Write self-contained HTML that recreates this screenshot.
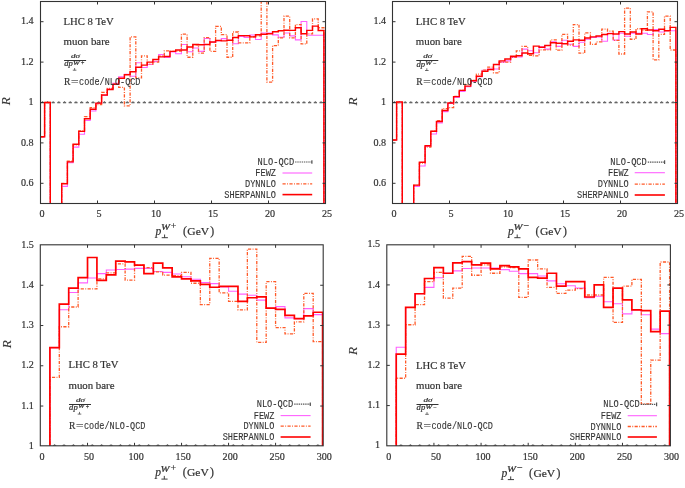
<!DOCTYPE html>
<html><head><meta charset="utf-8"><title>R ratio plots</title>
<style>html,body{margin:0;padding:0;background:#fff;}svg{display:block;filter:blur(0.3px);}</style>
</head><body>
<svg width="685" height="488" viewBox="0 0 685 488">
<rect width="685" height="488" fill="#fff"/>
<clipPath id="ctl"><rect x="40.5" y="1.5" width="285" height="202"/></clipPath>
<g clip-path="url(#ctl)"><rect x="40.95" y="101.9" width="3.2" height="1.4" fill="#666"/><rect x="42.05" y="101.1" width="1" height="1" fill="#777"/><rect x="45.85" y="101.9" width="3.2" height="1.4" fill="#666"/><rect x="46.95" y="101.1" width="1" height="1" fill="#777"/><rect x="51.55" y="101.9" width="3.2" height="1.4" fill="#666"/><rect x="52.65" y="101.1" width="1" height="1" fill="#777"/><rect x="57.25" y="101.9" width="3.2" height="1.4" fill="#666"/><rect x="58.35" y="101.1" width="1" height="1" fill="#777"/><rect x="62.95" y="101.9" width="3.2" height="1.4" fill="#666"/><rect x="64.05" y="101.1" width="1" height="1" fill="#777"/><rect x="68.65" y="101.9" width="3.2" height="1.4" fill="#666"/><rect x="69.75" y="101.1" width="1" height="1" fill="#777"/><rect x="74.35" y="101.9" width="3.2" height="1.4" fill="#666"/><rect x="75.45" y="101.1" width="1" height="1" fill="#777"/><rect x="80.05" y="101.9" width="3.2" height="1.4" fill="#666"/><rect x="81.15" y="101.1" width="1" height="1" fill="#777"/><rect x="85.75" y="101.9" width="3.2" height="1.4" fill="#666"/><rect x="86.85" y="101.1" width="1" height="1" fill="#777"/><rect x="91.45" y="101.9" width="3.2" height="1.4" fill="#666"/><rect x="92.55" y="101.1" width="1" height="1" fill="#777"/><rect x="97.15" y="101.9" width="3.2" height="1.4" fill="#666"/><rect x="98.25" y="101.1" width="1" height="1" fill="#777"/><rect x="102.85" y="101.9" width="3.2" height="1.4" fill="#666"/><rect x="103.95" y="101.1" width="1" height="1" fill="#777"/><rect x="108.55" y="101.9" width="3.2" height="1.4" fill="#666"/><rect x="109.65" y="101.1" width="1" height="1" fill="#777"/><rect x="114.25" y="101.9" width="3.2" height="1.4" fill="#666"/><rect x="115.35" y="101.1" width="1" height="1" fill="#777"/><rect x="119.95" y="101.9" width="3.2" height="1.4" fill="#666"/><rect x="121.05" y="101.1" width="1" height="1" fill="#777"/><rect x="125.65" y="101.9" width="3.2" height="1.4" fill="#666"/><rect x="126.75" y="101.1" width="1" height="1" fill="#777"/><rect x="131.35" y="101.9" width="3.2" height="1.4" fill="#666"/><rect x="132.45" y="101.1" width="1" height="1" fill="#777"/><rect x="137.05" y="101.9" width="3.2" height="1.4" fill="#666"/><rect x="138.15" y="101.1" width="1" height="1" fill="#777"/><rect x="142.75" y="101.9" width="3.2" height="1.4" fill="#666"/><rect x="143.85" y="101.1" width="1" height="1" fill="#777"/><rect x="148.45" y="101.9" width="3.2" height="1.4" fill="#666"/><rect x="149.55" y="101.1" width="1" height="1" fill="#777"/><rect x="154.15" y="101.9" width="3.2" height="1.4" fill="#666"/><rect x="155.25" y="101.1" width="1" height="1" fill="#777"/><rect x="159.85" y="101.9" width="3.2" height="1.4" fill="#666"/><rect x="160.95" y="101.1" width="1" height="1" fill="#777"/><rect x="165.55" y="101.9" width="3.2" height="1.4" fill="#666"/><rect x="166.65" y="101.1" width="1" height="1" fill="#777"/><rect x="171.25" y="101.9" width="3.2" height="1.4" fill="#666"/><rect x="172.35" y="101.1" width="1" height="1" fill="#777"/><rect x="176.95" y="101.9" width="3.2" height="1.4" fill="#666"/><rect x="178.05" y="101.1" width="1" height="1" fill="#777"/><rect x="182.65" y="101.9" width="3.2" height="1.4" fill="#666"/><rect x="183.75" y="101.1" width="1" height="1" fill="#777"/><rect x="188.35" y="101.9" width="3.2" height="1.4" fill="#666"/><rect x="189.45" y="101.1" width="1" height="1" fill="#777"/><rect x="194.05" y="101.9" width="3.2" height="1.4" fill="#666"/><rect x="195.15" y="101.1" width="1" height="1" fill="#777"/><rect x="199.75" y="101.9" width="3.2" height="1.4" fill="#666"/><rect x="200.85" y="101.1" width="1" height="1" fill="#777"/><rect x="205.45" y="101.9" width="3.2" height="1.4" fill="#666"/><rect x="206.55" y="101.1" width="1" height="1" fill="#777"/><rect x="211.15" y="101.9" width="3.2" height="1.4" fill="#666"/><rect x="212.25" y="101.1" width="1" height="1" fill="#777"/><rect x="216.85" y="101.9" width="3.2" height="1.4" fill="#666"/><rect x="217.95" y="101.1" width="1" height="1" fill="#777"/><rect x="222.55" y="101.9" width="3.2" height="1.4" fill="#666"/><rect x="223.65" y="101.1" width="1" height="1" fill="#777"/><rect x="228.25" y="101.9" width="3.2" height="1.4" fill="#666"/><rect x="229.35" y="101.1" width="1" height="1" fill="#777"/><rect x="233.95" y="101.9" width="3.2" height="1.4" fill="#666"/><rect x="235.05" y="101.1" width="1" height="1" fill="#777"/><rect x="239.65" y="101.9" width="3.2" height="1.4" fill="#666"/><rect x="240.75" y="101.1" width="1" height="1" fill="#777"/><rect x="245.35" y="101.9" width="3.2" height="1.4" fill="#666"/><rect x="246.45" y="101.1" width="1" height="1" fill="#777"/><rect x="251.05" y="101.9" width="3.2" height="1.4" fill="#666"/><rect x="252.15" y="101.1" width="1" height="1" fill="#777"/><rect x="256.75" y="101.9" width="3.2" height="1.4" fill="#666"/><rect x="257.85" y="101.1" width="1" height="1" fill="#777"/><rect x="262.45" y="101.9" width="3.2" height="1.4" fill="#666"/><rect x="263.55" y="101.1" width="1" height="1" fill="#777"/><rect x="268.15" y="101.9" width="3.2" height="1.4" fill="#666"/><rect x="269.25" y="101.1" width="1" height="1" fill="#777"/><rect x="273.85" y="101.9" width="3.2" height="1.4" fill="#666"/><rect x="274.95" y="101.1" width="1" height="1" fill="#777"/><rect x="279.55" y="101.9" width="3.2" height="1.4" fill="#666"/><rect x="280.65" y="101.1" width="1" height="1" fill="#777"/><rect x="285.25" y="101.9" width="3.2" height="1.4" fill="#666"/><rect x="286.35" y="101.1" width="1" height="1" fill="#777"/><rect x="290.95" y="101.9" width="3.2" height="1.4" fill="#666"/><rect x="292.05" y="101.1" width="1" height="1" fill="#777"/><rect x="296.65" y="101.9" width="3.2" height="1.4" fill="#666"/><rect x="297.75" y="101.1" width="1" height="1" fill="#777"/><rect x="302.35" y="101.9" width="3.2" height="1.4" fill="#666"/><rect x="303.45" y="101.1" width="1" height="1" fill="#777"/><rect x="308.05" y="101.9" width="3.2" height="1.4" fill="#666"/><rect x="309.15" y="101.1" width="1" height="1" fill="#777"/><rect x="313.75" y="101.9" width="3.2" height="1.4" fill="#666"/><rect x="314.85" y="101.1" width="1" height="1" fill="#777"/><rect x="319.45" y="101.9" width="3.2" height="1.4" fill="#666"/><rect x="320.55" y="101.1" width="1" height="1" fill="#777"/><path d="M40.5 136.84 L44.6 136.84 L44.6 102.5 L50.3 102.5 L50.3 208.5 L56 208.5 L56 208.5 L61.7 208.5 L61.7 186.33 L67.4 186.33 L67.4 162.7 L73.1 162.7 L73.1 147.14 L78.8 147.14 L78.8 134.21 L84.5 134.21 L84.5 120.48 L90.2 120.48 L90.2 110.98 L95.9 110.98 L95.9 103.51 L101.6 103.51 L101.6 95.43 L107.3 95.43 L107.3 89.17 L113 89.17 L113 83.31 L118.7 83.31 L118.7 76.85 L124.4 76.85 L124.4 74.22 L130.1 74.22 L130.1 76.24 L135.8 76.24 L135.8 62.71 L141.5 62.71 L141.5 67.55 L147.2 67.55 L147.2 64.52 L152.9 64.52 L152.9 61.49 L158.6 61.49 L158.6 54.63 L164.3 54.63 L164.3 57.45 L170 57.45 L170 52 L175.7 52 L175.7 53.82 L181.4 53.82 L181.4 44.53 L187.1 44.53 L187.1 51.8 L192.8 51.8 L192.8 47.96 L198.5 47.96 L198.5 51.39 L204.2 51.39 L204.2 38.47 L209.9 38.47 L209.9 42.3 L215.6 42.3 L215.6 40.69 L221.3 40.69 L221.3 38.67 L227 38.67 L227 40.28 L232.7 40.28 L232.7 43.72 L238.4 43.72 L238.4 36.45 L244.1 36.45 L244.1 37.46 L249.8 37.46 L249.8 35.03 L255.5 35.03 L255.5 39.48 L261.2 39.48 L261.2 33.01 L266.9 33.01 L266.9 33.01 L272.6 33.01 L272.6 34.83 L278.3 34.83 L278.3 37.25 L284 37.25 L284 33.01 L289.7 33.01 L289.7 35.84 L295.4 35.84 L295.4 39.88 L301.1 39.88 L301.1 21.5 L306.8 21.5 L306.8 35.23 L312.5 35.23 L312.5 35.23 L318.2 35.23 L318.2 35.23 L323.9 35.23 L323.9 208.5" fill="none" stroke="#f4f" stroke-width="1.1" opacity="0.85"/><path d="M40.5 136.84 L44.6 136.84 L44.6 102.5 L50.3 102.5 L50.3 208.5 L56 208.5 L56 208.5 L61.7 208.5 L61.7 183.3 L67.4 183.3 L67.4 161.08 L73.1 161.08 L73.1 144.92 L78.8 144.92 L78.8 130.78 L84.5 130.78 L84.5 116.64 L90.2 116.64 L90.2 107.55 L95.9 107.55 L95.9 104.52 L101.6 104.52 L101.6 92.4 L107.3 92.4 L107.3 88.36 L113 88.36 L113 84.12 L118.7 84.12 L118.7 87.35 L124.4 87.35 L124.4 105.93 L130.1 105.93 L130.1 36.85 L135.8 36.85 L135.8 77.86 L141.5 77.86 L141.5 55.84 L147.2 55.84 L147.2 64.12 L152.9 64.12 L152.9 62.1 L158.6 62.1 L158.6 56.04 L164.3 56.04 L164.3 50.79 L170 50.79 L170 51.39 L175.7 51.39 L175.7 50.99 L181.4 50.99 L181.4 34.22 L187.1 34.22 L187.1 57.25 L192.8 57.25 L192.8 44.73 L198.5 44.73 L198.5 53.21 L204.2 53.21 L204.2 37.66 L209.9 37.66 L209.9 51.39 L215.6 51.39 L215.6 26.35 L221.3 26.35 L221.3 34.63 L227 34.63 L227 57.25 L232.7 57.25 L232.7 32 L238.4 32 L238.4 42.91 L244.1 42.91 L244.1 42.91 L249.8 42.91 L249.8 36.85 L255.5 36.85 L255.5 35.84 L261.2 35.84 L261.2 -18.7 L266.9 -18.7 L266.9 82.1 L272.6 82.1 L272.6 45.54 L278.3 45.54 L278.3 37.86 L284 37.86 L284 16.04 L289.7 16.04 L289.7 37.86 L295.4 37.86 L295.4 24.53 L301.1 24.53 L301.1 43.92 L306.8 43.92 L306.8 33.82 L312.5 33.82 L312.5 18.87 L318.2 18.87 L318.2 27.76 L323.9 27.76 L323.9 208.5" fill="none" stroke="#ff5a28" stroke-width="1.3" stroke-dasharray="3.2 1.4 0.9 1.4"/><path d="M40.5 136.84 L44.6 136.84 L44.6 102.5 L50.3 102.5 L50.3 208.5 L56 208.5 L56 208.5 L61.7 208.5 L61.7 183.7 L67.4 183.7 L67.4 161.89 L73.1 161.89 L73.1 144.31 L78.8 144.31 L78.8 131.39 L84.5 131.39 L84.5 118.66 L90.2 118.66 L90.2 109.17 L95.9 109.17 L95.9 103.11 L101.6 103.11 L101.6 95.03 L107.3 95.03 L107.3 89.57 L113 89.57 L113 84.32 L118.7 84.32 L118.7 78.26 L124.4 78.26 L124.4 74.83 L130.1 74.83 L130.1 71.8 L135.8 71.8 L135.8 67.15 L141.5 67.15 L141.5 65.13 L147.2 65.13 L147.2 62.1 L152.9 62.1 L152.9 59.47 L158.6 59.47 L158.6 56.85 L164.3 56.85 L164.3 56.44 L170 56.44 L170 51.39 L175.7 51.39 L175.7 49.98 L181.4 49.98 L181.4 49.98 L187.1 49.98 L187.1 46.95 L192.8 46.95 L192.8 44.53 L198.5 44.53 L198.5 44.73 L204.2 44.73 L204.2 44.53 L209.9 44.53 L209.9 41.9 L215.6 41.9 L215.6 40.49 L221.3 40.49 L221.3 40.89 L227 40.89 L227 40.28 L232.7 40.28 L232.7 37.46 L238.4 37.46 L238.4 35.64 L244.1 35.64 L244.1 35.84 L249.8 35.84 L249.8 36.85 L255.5 36.85 L255.5 34.83 L261.2 34.83 L261.2 34.22 L266.9 34.22 L266.9 33.82 L272.6 33.82 L272.6 31.8 L278.3 31.8 L278.3 30.79 L284 30.79 L284 30.18 L289.7 30.18 L289.7 30.39 L295.4 30.39 L295.4 27.76 L301.1 27.76 L301.1 33.82 L306.8 33.82 L306.8 30.39 L312.5 30.39 L312.5 26.14 L318.2 26.14 L318.2 30.59 L323.9 30.59 L323.9 208.5" fill="none" stroke="#f00" stroke-width="1.45"/></g>
<rect x="40.5" y="1.5" width="285" height="202" fill="none" stroke="#333" stroke-width="1.1"/>
<path d="M97.5 203.5v-3M97.5 1.5v3M154.5 203.5v-3M154.5 1.5v3M211.5 203.5v-3M211.5 1.5v3M268.5 203.5v-3M268.5 1.5v3M40.5 183.3h3M325.5 183.3h-3M40.5 142.9h3M325.5 142.9h-3M40.5 102.5h3M325.5 102.5h-3M40.5 62.1h3M325.5 62.1h-3M40.5 21.7h3M325.5 21.7h-3" stroke="#333" stroke-width="1" fill="none"/>
<text x="42.1" y="217.1" text-anchor="middle" style="font-family:'Liberation Serif',serif;font-size:10.1px" fill="#333" stroke="#333" stroke-width="0.2">0</text>
<text x="99.1" y="217.1" text-anchor="middle" style="font-family:'Liberation Serif',serif;font-size:10.1px" fill="#333" stroke="#333" stroke-width="0.2">5</text>
<text x="156.1" y="217.1" text-anchor="middle" style="font-family:'Liberation Serif',serif;font-size:10.1px" fill="#333" stroke="#333" stroke-width="0.2">10</text>
<text x="213.1" y="217.1" text-anchor="middle" style="font-family:'Liberation Serif',serif;font-size:10.1px" fill="#333" stroke="#333" stroke-width="0.2">15</text>
<text x="270.1" y="217.1" text-anchor="middle" style="font-family:'Liberation Serif',serif;font-size:10.1px" fill="#333" stroke="#333" stroke-width="0.2">20</text>
<text x="327.1" y="217.1" text-anchor="middle" style="font-family:'Liberation Serif',serif;font-size:10.1px" fill="#333" stroke="#333" stroke-width="0.2">25</text>
<text x="33.6" y="185.9" text-anchor="end" style="font-family:'Liberation Serif',serif;font-size:10.1px" fill="#333" stroke="#333" stroke-width="0.2">0.6</text>
<text x="33.6" y="145.5" text-anchor="end" style="font-family:'Liberation Serif',serif;font-size:10.1px" fill="#333" stroke="#333" stroke-width="0.2">0.8</text>
<text x="33.6" y="105.1" text-anchor="end" style="font-family:'Liberation Serif',serif;font-size:10.1px" fill="#333" stroke="#333" stroke-width="0.2">1</text>
<text x="33.6" y="64.7" text-anchor="end" style="font-family:'Liberation Serif',serif;font-size:10.1px" fill="#333" stroke="#333" stroke-width="0.2">1.2</text>
<text x="33.6" y="24.3" text-anchor="end" style="font-family:'Liberation Serif',serif;font-size:10.1px" fill="#333" stroke="#333" stroke-width="0.2">1.4</text>
<text transform="translate(10.2 101.3) rotate(-90)" text-anchor="middle" textLength="8.1" lengthAdjust="spacingAndGlyphs" style="font-family:'Liberation Serif',serif;font-style:italic;font-size:11.6px" fill="#333" stroke="#333" stroke-width="0.1">R</text>
<text x="155.5" y="234.6" style="font-family:'Liberation Serif',serif;font-style:italic;font-size:11.6px" fill="#333" stroke="#333" stroke-width="0.2">p</text>
<text x="160.9" y="230.4" textLength="9" lengthAdjust="spacingAndGlyphs" style="font-family:'Liberation Serif',serif;font-style:italic;font-size:7.5px" fill="#333" stroke="#333" stroke-width="0.2">W</text>
<text x="170.8" y="229.1" style="font-family:'Liberation Serif',serif;font-size:10px" fill="#333" stroke="#333" stroke-width="0.2">+</text>
<path d="M161.7 237.7h6.2M164.6 237.7v-3.2" stroke="#333" stroke-width="0.95" fill="none"/>
<text x="183" y="235" style="font-family:'Liberation Serif',serif;font-size:11.8px" fill="#333" stroke="#333" stroke-width="0.2">(</text>
<text x="187.3" y="234.7" textLength="21.8" lengthAdjust="spacingAndGlyphs" style="font-family:'Liberation Serif',serif;font-size:10.5px" fill="#333" stroke="#333" stroke-width="0.2">GeV</text>
<text x="210.3" y="235" style="font-family:'Liberation Serif',serif;font-size:11.8px" fill="#333" stroke="#333" stroke-width="0.2">)</text>
<text x="63.6" y="24.5" textLength="50" lengthAdjust="spacingAndGlyphs" style="font-family:'Liberation Serif',serif;font-size:10.2px" fill="#333" stroke="#333" stroke-width="0.2">LHC 8 TeV</text>
<text x="63.6" y="44.9" textLength="46" lengthAdjust="spacingAndGlyphs" style="font-family:'Liberation Serif',serif;font-size:10.5px" fill="#333" stroke="#333" stroke-width="0.2">muon bare</text>
<text x="71" y="58.1" textLength="9" lengthAdjust="spacingAndGlyphs" style="font-family:'Liberation Serif',serif;font-style:italic;font-size:6.8px" fill="#333" stroke="#333" stroke-width="0.2">dσ</text>
<rect x="64.1" y="60" width="22" height="1" fill="#333"/>
<text x="64.2" y="66.2" textLength="8.6" lengthAdjust="spacingAndGlyphs" style="font-family:'Liberation Serif',serif;font-style:italic;font-size:7.2px" fill="#333" stroke="#333" stroke-width="0.2">dp</text>
<text x="73" y="64.5" textLength="6.6" lengthAdjust="spacingAndGlyphs" style="font-family:'Liberation Serif',serif;font-style:italic;font-size:5.6px" fill="#333" stroke="#333" stroke-width="0.2">W</text>
<text x="80.9" y="64.6" style="font-family:'Liberation Serif',serif;font-size:6px" fill="#333" stroke="#333" stroke-width="0.2">+</text>
<path d="M72.8 70.2h3.6M74.6 70.2v-2.2" stroke="#333" stroke-width="0.7" fill="none"/>
<text x="64.1" y="84.6" textLength="6.4" lengthAdjust="spacingAndGlyphs" style="font-family:'Liberation Serif',serif;font-size:10.8px" fill="#333" stroke="#333" stroke-width="0.2">R</text>
<text x="71" y="84.6" textLength="7.5" lengthAdjust="spacingAndGlyphs" style="font-family:'Liberation Serif',serif;font-size:10.8px" fill="#333" stroke="#333" stroke-width="0.2">=</text>
<text x="79.1" y="84.6" textLength="61.4" lengthAdjust="spacingAndGlyphs" style="font-family:'Liberation Mono',monospace;font-size:10.2px" fill="#333" stroke="#333" stroke-width="0.1">code/NLO-QCD</text>
<text x="257.6" y="164.9" textLength="36.5" lengthAdjust="spacingAndGlyphs" style="font-family:'Liberation Mono',monospace;font-size:10.2px" fill="#333" stroke="#333" stroke-width="0.1">NLO-QCD</text>
<text x="276" y="176.2" text-anchor="end" textLength="20.68" lengthAdjust="spacingAndGlyphs" style="font-family:'Liberation Mono',monospace;font-size:10.2px" fill="#333" stroke="#333" stroke-width="0.1">FEWZ</text>
<text x="276" y="187.1" text-anchor="end" textLength="31.02" lengthAdjust="spacingAndGlyphs" style="font-family:'Liberation Mono',monospace;font-size:10.2px" fill="#333" stroke="#333" stroke-width="0.1">DYNNLO</text>
<text x="276" y="197.8" text-anchor="end" textLength="51.7" lengthAdjust="spacingAndGlyphs" style="font-family:'Liberation Mono',monospace;font-size:10.2px" fill="#333" stroke="#333" stroke-width="0.1">SHERPANNLO</text>
<path d="M295.1 162H312.2" stroke="#555" stroke-width="1.2" stroke-dasharray="1.4 0.8"/>
<path d="M311.9 160.2v3.6" stroke="#555" stroke-width="1.2"/>
<path d="M282.5 173H312.2" stroke="#f4f" stroke-width="1.1" opacity="0.85"/>
<path d="M282.5 183.9H312.2" stroke="#ff5a28" stroke-width="1.3" stroke-dasharray="3.2 1.4 0.9 1.4"/>
<path d="M282.5 194.6H312.2" stroke="#f00" stroke-width="1.6"/>
<clipPath id="ctr"><rect x="392.5" y="1.5" width="285" height="202"/></clipPath>
<g clip-path="url(#ctr)"><rect x="392.95" y="101.9" width="3.2" height="1.4" fill="#666"/><rect x="394.05" y="101.1" width="1" height="1" fill="#777"/><rect x="397.85" y="101.9" width="3.2" height="1.4" fill="#666"/><rect x="398.95" y="101.1" width="1" height="1" fill="#777"/><rect x="403.55" y="101.9" width="3.2" height="1.4" fill="#666"/><rect x="404.65" y="101.1" width="1" height="1" fill="#777"/><rect x="409.25" y="101.9" width="3.2" height="1.4" fill="#666"/><rect x="410.35" y="101.1" width="1" height="1" fill="#777"/><rect x="414.95" y="101.9" width="3.2" height="1.4" fill="#666"/><rect x="416.05" y="101.1" width="1" height="1" fill="#777"/><rect x="420.65" y="101.9" width="3.2" height="1.4" fill="#666"/><rect x="421.75" y="101.1" width="1" height="1" fill="#777"/><rect x="426.35" y="101.9" width="3.2" height="1.4" fill="#666"/><rect x="427.45" y="101.1" width="1" height="1" fill="#777"/><rect x="432.05" y="101.9" width="3.2" height="1.4" fill="#666"/><rect x="433.15" y="101.1" width="1" height="1" fill="#777"/><rect x="437.75" y="101.9" width="3.2" height="1.4" fill="#666"/><rect x="438.85" y="101.1" width="1" height="1" fill="#777"/><rect x="443.45" y="101.9" width="3.2" height="1.4" fill="#666"/><rect x="444.55" y="101.1" width="1" height="1" fill="#777"/><rect x="449.15" y="101.9" width="3.2" height="1.4" fill="#666"/><rect x="450.25" y="101.1" width="1" height="1" fill="#777"/><rect x="454.85" y="101.9" width="3.2" height="1.4" fill="#666"/><rect x="455.95" y="101.1" width="1" height="1" fill="#777"/><rect x="460.55" y="101.9" width="3.2" height="1.4" fill="#666"/><rect x="461.65" y="101.1" width="1" height="1" fill="#777"/><rect x="466.25" y="101.9" width="3.2" height="1.4" fill="#666"/><rect x="467.35" y="101.1" width="1" height="1" fill="#777"/><rect x="471.95" y="101.9" width="3.2" height="1.4" fill="#666"/><rect x="473.05" y="101.1" width="1" height="1" fill="#777"/><rect x="477.65" y="101.9" width="3.2" height="1.4" fill="#666"/><rect x="478.75" y="101.1" width="1" height="1" fill="#777"/><rect x="483.35" y="101.9" width="3.2" height="1.4" fill="#666"/><rect x="484.45" y="101.1" width="1" height="1" fill="#777"/><rect x="489.05" y="101.9" width="3.2" height="1.4" fill="#666"/><rect x="490.15" y="101.1" width="1" height="1" fill="#777"/><rect x="494.75" y="101.9" width="3.2" height="1.4" fill="#666"/><rect x="495.85" y="101.1" width="1" height="1" fill="#777"/><rect x="500.45" y="101.9" width="3.2" height="1.4" fill="#666"/><rect x="501.55" y="101.1" width="1" height="1" fill="#777"/><rect x="506.15" y="101.9" width="3.2" height="1.4" fill="#666"/><rect x="507.25" y="101.1" width="1" height="1" fill="#777"/><rect x="511.85" y="101.9" width="3.2" height="1.4" fill="#666"/><rect x="512.95" y="101.1" width="1" height="1" fill="#777"/><rect x="517.55" y="101.9" width="3.2" height="1.4" fill="#666"/><rect x="518.65" y="101.1" width="1" height="1" fill="#777"/><rect x="523.25" y="101.9" width="3.2" height="1.4" fill="#666"/><rect x="524.35" y="101.1" width="1" height="1" fill="#777"/><rect x="528.95" y="101.9" width="3.2" height="1.4" fill="#666"/><rect x="530.05" y="101.1" width="1" height="1" fill="#777"/><rect x="534.65" y="101.9" width="3.2" height="1.4" fill="#666"/><rect x="535.75" y="101.1" width="1" height="1" fill="#777"/><rect x="540.35" y="101.9" width="3.2" height="1.4" fill="#666"/><rect x="541.45" y="101.1" width="1" height="1" fill="#777"/><rect x="546.05" y="101.9" width="3.2" height="1.4" fill="#666"/><rect x="547.15" y="101.1" width="1" height="1" fill="#777"/><rect x="551.75" y="101.9" width="3.2" height="1.4" fill="#666"/><rect x="552.85" y="101.1" width="1" height="1" fill="#777"/><rect x="557.45" y="101.9" width="3.2" height="1.4" fill="#666"/><rect x="558.55" y="101.1" width="1" height="1" fill="#777"/><rect x="563.15" y="101.9" width="3.2" height="1.4" fill="#666"/><rect x="564.25" y="101.1" width="1" height="1" fill="#777"/><rect x="568.85" y="101.9" width="3.2" height="1.4" fill="#666"/><rect x="569.95" y="101.1" width="1" height="1" fill="#777"/><rect x="574.55" y="101.9" width="3.2" height="1.4" fill="#666"/><rect x="575.65" y="101.1" width="1" height="1" fill="#777"/><rect x="580.25" y="101.9" width="3.2" height="1.4" fill="#666"/><rect x="581.35" y="101.1" width="1" height="1" fill="#777"/><rect x="585.95" y="101.9" width="3.2" height="1.4" fill="#666"/><rect x="587.05" y="101.1" width="1" height="1" fill="#777"/><rect x="591.65" y="101.9" width="3.2" height="1.4" fill="#666"/><rect x="592.75" y="101.1" width="1" height="1" fill="#777"/><rect x="597.35" y="101.9" width="3.2" height="1.4" fill="#666"/><rect x="598.45" y="101.1" width="1" height="1" fill="#777"/><rect x="603.05" y="101.9" width="3.2" height="1.4" fill="#666"/><rect x="604.15" y="101.1" width="1" height="1" fill="#777"/><rect x="608.75" y="101.9" width="3.2" height="1.4" fill="#666"/><rect x="609.85" y="101.1" width="1" height="1" fill="#777"/><rect x="614.45" y="101.9" width="3.2" height="1.4" fill="#666"/><rect x="615.55" y="101.1" width="1" height="1" fill="#777"/><rect x="620.15" y="101.9" width="3.2" height="1.4" fill="#666"/><rect x="621.25" y="101.1" width="1" height="1" fill="#777"/><rect x="625.85" y="101.9" width="3.2" height="1.4" fill="#666"/><rect x="626.95" y="101.1" width="1" height="1" fill="#777"/><rect x="631.55" y="101.9" width="3.2" height="1.4" fill="#666"/><rect x="632.65" y="101.1" width="1" height="1" fill="#777"/><rect x="637.25" y="101.9" width="3.2" height="1.4" fill="#666"/><rect x="638.35" y="101.1" width="1" height="1" fill="#777"/><rect x="642.95" y="101.9" width="3.2" height="1.4" fill="#666"/><rect x="644.05" y="101.1" width="1" height="1" fill="#777"/><rect x="648.65" y="101.9" width="3.2" height="1.4" fill="#666"/><rect x="649.75" y="101.1" width="1" height="1" fill="#777"/><rect x="654.35" y="101.9" width="3.2" height="1.4" fill="#666"/><rect x="655.45" y="101.1" width="1" height="1" fill="#777"/><rect x="660.05" y="101.9" width="3.2" height="1.4" fill="#666"/><rect x="661.15" y="101.1" width="1" height="1" fill="#777"/><rect x="665.75" y="101.9" width="3.2" height="1.4" fill="#666"/><rect x="666.85" y="101.1" width="1" height="1" fill="#777"/><rect x="671.45" y="101.9" width="3.2" height="1.4" fill="#666"/><rect x="672.55" y="101.1" width="1" height="1" fill="#777"/><path d="M392.5 140.07 L396.6 140.07 L396.6 102.5 L402.3 102.5 L402.3 208.5 L408 208.5 L408 208.5 L413.7 208.5 L413.7 186.33 L419.4 186.33 L419.4 165.93 L425.1 165.93 L425.1 146.54 L430.8 146.54 L430.8 134.01 L436.5 134.01 L436.5 122.9 L442.2 122.9 L442.2 111.59 L447.9 111.59 L447.9 103.51 L453.6 103.51 L453.6 97.45 L459.3 97.45 L459.3 91.39 L465 91.39 L465 86.74 L470.7 86.74 L470.7 81.29 L476.4 81.29 L476.4 76.64 L482.1 76.64 L482.1 70.18 L487.8 70.18 L487.8 69.17 L493.5 69.17 L493.5 68.97 L499.2 68.97 L499.2 62.1 L504.9 62.1 L504.9 60.89 L510.6 60.89 L510.6 57.45 L516.3 57.45 L516.3 57.05 L522 57.05 L522 49.17 L527.7 49.17 L527.7 50.79 L533.4 50.79 L533.4 52.81 L539.1 52.81 L539.1 46.75 L544.8 46.75 L544.8 49.17 L550.5 49.17 L550.5 41.9 L556.2 41.9 L556.2 46.34 L561.9 46.34 L561.9 40.28 L567.6 40.28 L567.6 44.32 L573.3 44.32 L573.3 46.34 L579 46.34 L579 42.3 L584.7 42.3 L584.7 39.27 L590.4 39.27 L590.4 37.46 L596.1 37.46 L596.1 36.85 L601.8 36.85 L601.8 41.29 L607.5 41.29 L607.5 33.42 L613.2 33.42 L613.2 40.08 L618.9 40.08 L618.9 33.21 L624.6 33.21 L624.6 36.24 L630.3 36.24 L630.3 33.21 L636 33.21 L636 33.21 L641.7 33.21 L641.7 33.21 L647.4 33.21 L647.4 34.43 L653.1 34.43 L653.1 29.58 L658.8 29.58 L658.8 32 L664.5 32 L664.5 30.79 L670.2 30.79 L670.2 30.79 L675.9 30.79 L675.9 208.5" fill="none" stroke="#f4f" stroke-width="1.1" opacity="0.85"/><path d="M392.5 140.07 L396.6 140.07 L396.6 102.5 L402.3 102.5 L402.3 208.5 L408 208.5 L408 208.5 L413.7 208.5 L413.7 185.32 L419.4 185.32 L419.4 163.1 L425.1 163.1 L425.1 147.14 L430.8 147.14 L430.8 131.18 L436.5 131.18 L436.5 120.68 L442.2 120.68 L442.2 108.56 L447.9 108.56 L447.9 107.55 L453.6 107.55 L453.6 96.44 L459.3 96.44 L459.3 90.38 L465 90.38 L465 84.32 L470.7 84.32 L470.7 80.28 L476.4 80.28 L476.4 74.22 L482.1 74.22 L482.1 70.18 L487.8 70.18 L487.8 67.15 L493.5 67.15 L493.5 72.81 L499.2 72.81 L499.2 62.1 L504.9 62.1 L504.9 62.1 L510.6 62.1 L510.6 57.45 L516.3 57.45 L516.3 50.79 L522 50.79 L522 46.34 L527.7 46.34 L527.7 55.23 L533.4 55.23 L533.4 55.84 L539.1 55.84 L539.1 49.78 L544.8 49.78 L544.8 49.78 L550.5 49.78 L550.5 39.88 L556.2 39.88 L556.2 50.18 L561.9 50.18 L561.9 34.43 L567.6 34.43 L567.6 45.13 L573.3 45.13 L573.3 24.53 L579 24.53 L579 53.21 L584.7 53.21 L584.7 32.81 L590.4 32.81 L590.4 44.32 L596.1 44.32 L596.1 41.9 L601.8 41.9 L601.8 29.17 L607.5 29.17 L607.5 31.19 L613.2 31.19 L613.2 40.28 L618.9 40.28 L618.9 54.02 L624.6 54.02 L624.6 8.17 L630.3 8.17 L630.3 39.27 L636 39.27 L636 28.77 L641.7 28.77 L641.7 30.39 L647.4 30.39 L647.4 11.8 L653.1 11.8 L653.1 59.88 L658.8 59.88 L658.8 34.43 L664.5 34.43 L664.5 16.04 L670.2 16.04 L670.2 49.98 L675.9 49.98 L675.9 208.5" fill="none" stroke="#ff5a28" stroke-width="1.3" stroke-dasharray="3.2 1.4 0.9 1.4"/><path d="M392.5 140.07 L396.6 140.07 L396.6 101.89 L402.3 101.89 L402.3 208.5 L408 208.5 L408 208.5 L413.7 208.5 L413.7 185.12 L419.4 185.12 L419.4 162.29 L425.1 162.29 L425.1 145.73 L430.8 145.73 L430.8 131.18 L436.5 131.18 L436.5 121.49 L442.2 121.49 L442.2 110.58 L447.9 110.58 L447.9 102.9 L453.6 102.9 L453.6 96.64 L459.3 96.64 L459.3 90.38 L465 90.38 L465 86.14 L470.7 86.14 L470.7 80.68 L476.4 80.68 L476.4 76.24 L482.1 76.24 L482.1 71.39 L487.8 71.39 L487.8 69.57 L493.5 69.57 L493.5 64.52 L499.2 64.52 L499.2 60.89 L504.9 60.89 L504.9 59.07 L510.6 59.07 L510.6 56.24 L516.3 56.24 L516.3 55.84 L522 55.84 L522 53.01 L527.7 53.01 L527.7 53.82 L533.4 53.82 L533.4 46.14 L539.1 46.14 L539.1 47.15 L544.8 47.15 L544.8 45.54 L550.5 45.54 L550.5 42.71 L556.2 42.71 L556.2 43.31 L561.9 43.31 L561.9 43.72 L567.6 43.72 L567.6 41.29 L573.3 41.29 L573.3 39.88 L579 39.88 L579 40.28 L584.7 40.28 L584.7 38.06 L590.4 38.06 L590.4 36.85 L596.1 36.85 L596.1 36.04 L601.8 36.04 L601.8 34.43 L607.5 34.43 L607.5 33.62 L613.2 33.62 L613.2 34.02 L618.9 34.02 L618.9 31.6 L624.6 31.6 L624.6 34.02 L630.3 34.02 L630.3 32 L636 32 L636 34.02 L641.7 34.02 L641.7 28.77 L647.4 28.77 L647.4 29.98 L653.1 29.98 L653.1 30.79 L658.8 30.79 L658.8 29.17 L664.5 29.17 L664.5 30.79 L670.2 30.79 L670.2 27.36 L675.9 27.36 L675.9 208.5" fill="none" stroke="#f00" stroke-width="1.45"/></g>
<rect x="392.5" y="1.5" width="285" height="202" fill="none" stroke="#333" stroke-width="1.1"/>
<path d="M449.5 203.5v-3M449.5 1.5v3M506.5 203.5v-3M506.5 1.5v3M563.5 203.5v-3M563.5 1.5v3M620.5 203.5v-3M620.5 1.5v3M392.5 183.3h3M677.5 183.3h-3M392.5 142.9h3M677.5 142.9h-3M392.5 102.5h3M677.5 102.5h-3M392.5 62.1h3M677.5 62.1h-3M392.5 21.7h3M677.5 21.7h-3" stroke="#333" stroke-width="1" fill="none"/>
<text x="394.1" y="217.1" text-anchor="middle" style="font-family:'Liberation Serif',serif;font-size:10.1px" fill="#333" stroke="#333" stroke-width="0.2">0</text>
<text x="451.1" y="217.1" text-anchor="middle" style="font-family:'Liberation Serif',serif;font-size:10.1px" fill="#333" stroke="#333" stroke-width="0.2">5</text>
<text x="508.1" y="217.1" text-anchor="middle" style="font-family:'Liberation Serif',serif;font-size:10.1px" fill="#333" stroke="#333" stroke-width="0.2">10</text>
<text x="565.1" y="217.1" text-anchor="middle" style="font-family:'Liberation Serif',serif;font-size:10.1px" fill="#333" stroke="#333" stroke-width="0.2">15</text>
<text x="622.1" y="217.1" text-anchor="middle" style="font-family:'Liberation Serif',serif;font-size:10.1px" fill="#333" stroke="#333" stroke-width="0.2">20</text>
<text x="679.1" y="217.1" text-anchor="middle" style="font-family:'Liberation Serif',serif;font-size:10.1px" fill="#333" stroke="#333" stroke-width="0.2">25</text>
<text x="386.1" y="185.9" text-anchor="end" style="font-family:'Liberation Serif',serif;font-size:10.1px" fill="#333" stroke="#333" stroke-width="0.2">0.6</text>
<text x="386.1" y="145.5" text-anchor="end" style="font-family:'Liberation Serif',serif;font-size:10.1px" fill="#333" stroke="#333" stroke-width="0.2">0.8</text>
<text x="386.1" y="105.1" text-anchor="end" style="font-family:'Liberation Serif',serif;font-size:10.1px" fill="#333" stroke="#333" stroke-width="0.2">1</text>
<text x="386.1" y="64.7" text-anchor="end" style="font-family:'Liberation Serif',serif;font-size:10.1px" fill="#333" stroke="#333" stroke-width="0.2">1.2</text>
<text x="386.1" y="24.3" text-anchor="end" style="font-family:'Liberation Serif',serif;font-size:10.1px" fill="#333" stroke="#333" stroke-width="0.2">1.4</text>
<text transform="translate(357.4 101.5) rotate(-90)" text-anchor="middle" textLength="8.1" lengthAdjust="spacingAndGlyphs" style="font-family:'Liberation Serif',serif;font-style:italic;font-size:11.6px" fill="#333" stroke="#333" stroke-width="0.1">R</text>
<text x="508.1" y="234.6" style="font-family:'Liberation Serif',serif;font-style:italic;font-size:11.6px" fill="#333" stroke="#333" stroke-width="0.2">p</text>
<text x="513.5" y="230.4" textLength="9" lengthAdjust="spacingAndGlyphs" style="font-family:'Liberation Serif',serif;font-style:italic;font-size:7.5px" fill="#333" stroke="#333" stroke-width="0.2">W</text>
<text x="523.4" y="229.1" style="font-family:'Liberation Serif',serif;font-size:10px" fill="#333" stroke="#333" stroke-width="0.2">−</text>
<path d="M514.3 237.7h6.2M517.2 237.7v-3.2" stroke="#333" stroke-width="0.95" fill="none"/>
<text x="535.6" y="235" style="font-family:'Liberation Serif',serif;font-size:11.8px" fill="#333" stroke="#333" stroke-width="0.2">(</text>
<text x="539.9" y="234.7" textLength="21.8" lengthAdjust="spacingAndGlyphs" style="font-family:'Liberation Serif',serif;font-size:10.5px" fill="#333" stroke="#333" stroke-width="0.2">GeV</text>
<text x="562.9" y="235" style="font-family:'Liberation Serif',serif;font-size:11.8px" fill="#333" stroke="#333" stroke-width="0.2">)</text>
<text x="415.8" y="24.8" textLength="50" lengthAdjust="spacingAndGlyphs" style="font-family:'Liberation Serif',serif;font-size:10.2px" fill="#333" stroke="#333" stroke-width="0.2">LHC 8 TeV</text>
<text x="415.8" y="45.2" textLength="46" lengthAdjust="spacingAndGlyphs" style="font-family:'Liberation Serif',serif;font-size:10.5px" fill="#333" stroke="#333" stroke-width="0.2">muon bare</text>
<text x="423.2" y="58.4" textLength="9" lengthAdjust="spacingAndGlyphs" style="font-family:'Liberation Serif',serif;font-style:italic;font-size:6.8px" fill="#333" stroke="#333" stroke-width="0.2">dσ</text>
<rect x="416.3" y="60" width="22" height="1" fill="#333"/>
<text x="416.4" y="66.5" textLength="8.6" lengthAdjust="spacingAndGlyphs" style="font-family:'Liberation Serif',serif;font-style:italic;font-size:7.2px" fill="#333" stroke="#333" stroke-width="0.2">dp</text>
<text x="425.2" y="64.8" textLength="6.6" lengthAdjust="spacingAndGlyphs" style="font-family:'Liberation Serif',serif;font-style:italic;font-size:5.6px" fill="#333" stroke="#333" stroke-width="0.2">W</text>
<text x="433.1" y="64.9" style="font-family:'Liberation Serif',serif;font-size:6px" fill="#333" stroke="#333" stroke-width="0.2">−</text>
<path d="M425 70.5h3.6M426.8 70.5v-2.2" stroke="#333" stroke-width="0.7" fill="none"/>
<text x="416.3" y="84.9" textLength="6.4" lengthAdjust="spacingAndGlyphs" style="font-family:'Liberation Serif',serif;font-size:10.8px" fill="#333" stroke="#333" stroke-width="0.2">R</text>
<text x="423.2" y="84.9" textLength="7.5" lengthAdjust="spacingAndGlyphs" style="font-family:'Liberation Serif',serif;font-size:10.8px" fill="#333" stroke="#333" stroke-width="0.2">=</text>
<text x="431.3" y="84.9" textLength="61.4" lengthAdjust="spacingAndGlyphs" style="font-family:'Liberation Mono',monospace;font-size:10.2px" fill="#333" stroke="#333" stroke-width="0.1">code/NLO-QCD</text>
<text x="610.3" y="165" textLength="36.5" lengthAdjust="spacingAndGlyphs" style="font-family:'Liberation Mono',monospace;font-size:10.2px" fill="#333" stroke="#333" stroke-width="0.1">NLO-QCD</text>
<text x="628.8" y="175.9" text-anchor="end" textLength="20.68" lengthAdjust="spacingAndGlyphs" style="font-family:'Liberation Mono',monospace;font-size:10.2px" fill="#333" stroke="#333" stroke-width="0.1">FEWZ</text>
<text x="628.8" y="187.3" text-anchor="end" textLength="31.02" lengthAdjust="spacingAndGlyphs" style="font-family:'Liberation Mono',monospace;font-size:10.2px" fill="#333" stroke="#333" stroke-width="0.1">DYNNLO</text>
<text x="628.8" y="198.2" text-anchor="end" textLength="51.7" lengthAdjust="spacingAndGlyphs" style="font-family:'Liberation Mono',monospace;font-size:10.2px" fill="#333" stroke="#333" stroke-width="0.1">SHERPANNLO</text>
<path d="M647.8 162.1H664.9" stroke="#555" stroke-width="1.2" stroke-dasharray="1.4 0.8"/>
<path d="M664.6 160.3v3.6" stroke="#555" stroke-width="1.2"/>
<path d="M634.7 172.7H664.9" stroke="#f4f" stroke-width="1.1" opacity="0.85"/>
<path d="M634.7 184.1H664.9" stroke="#ff5a28" stroke-width="1.3" stroke-dasharray="3.2 1.4 0.9 1.4"/>
<path d="M634.7 195H664.9" stroke="#f00" stroke-width="1.6"/>
<clipPath id="cbl"><rect x="40.3" y="244.8" width="282.9" height="201"/></clipPath>
<g clip-path="url(#cbl)"><rect x="53.01" y="444.9" width="3.2" height="1.4" fill="#666"/><rect x="54.11" y="444.1" width="1" height="1" fill="#777"/><rect x="62.41" y="444.9" width="3.2" height="1.4" fill="#666"/><rect x="63.51" y="444.1" width="1" height="1" fill="#777"/><rect x="71.81" y="444.9" width="3.2" height="1.4" fill="#666"/><rect x="72.91" y="444.1" width="1" height="1" fill="#777"/><rect x="81.22" y="444.9" width="3.2" height="1.4" fill="#666"/><rect x="82.31" y="444.1" width="1" height="1" fill="#777"/><rect x="90.62" y="444.9" width="3.2" height="1.4" fill="#666"/><rect x="91.72" y="444.1" width="1" height="1" fill="#777"/><rect x="100.02" y="444.9" width="3.2" height="1.4" fill="#666"/><rect x="101.12" y="444.1" width="1" height="1" fill="#777"/><rect x="109.43" y="444.9" width="3.2" height="1.4" fill="#666"/><rect x="110.53" y="444.1" width="1" height="1" fill="#777"/><rect x="118.83" y="444.9" width="3.2" height="1.4" fill="#666"/><rect x="119.93" y="444.1" width="1" height="1" fill="#777"/><rect x="128.23" y="444.9" width="3.2" height="1.4" fill="#666"/><rect x="129.33" y="444.1" width="1" height="1" fill="#777"/><rect x="137.64" y="444.9" width="3.2" height="1.4" fill="#666"/><rect x="138.74" y="444.1" width="1" height="1" fill="#777"/><rect x="147.04" y="444.9" width="3.2" height="1.4" fill="#666"/><rect x="148.14" y="444.1" width="1" height="1" fill="#777"/><rect x="156.44" y="444.9" width="3.2" height="1.4" fill="#666"/><rect x="157.54" y="444.1" width="1" height="1" fill="#777"/><rect x="165.84" y="444.9" width="3.2" height="1.4" fill="#666"/><rect x="166.94" y="444.1" width="1" height="1" fill="#777"/><rect x="175.25" y="444.9" width="3.2" height="1.4" fill="#666"/><rect x="176.35" y="444.1" width="1" height="1" fill="#777"/><rect x="184.65" y="444.9" width="3.2" height="1.4" fill="#666"/><rect x="185.75" y="444.1" width="1" height="1" fill="#777"/><rect x="194.06" y="444.9" width="3.2" height="1.4" fill="#666"/><rect x="195.16" y="444.1" width="1" height="1" fill="#777"/><rect x="203.46" y="444.9" width="3.2" height="1.4" fill="#666"/><rect x="204.56" y="444.1" width="1" height="1" fill="#777"/><rect x="212.86" y="444.9" width="3.2" height="1.4" fill="#666"/><rect x="213.96" y="444.1" width="1" height="1" fill="#777"/><rect x="222.27" y="444.9" width="3.2" height="1.4" fill="#666"/><rect x="223.37" y="444.1" width="1" height="1" fill="#777"/><rect x="231.67" y="444.9" width="3.2" height="1.4" fill="#666"/><rect x="232.77" y="444.1" width="1" height="1" fill="#777"/><rect x="241.07" y="444.9" width="3.2" height="1.4" fill="#666"/><rect x="242.17" y="444.1" width="1" height="1" fill="#777"/><rect x="250.48" y="444.9" width="3.2" height="1.4" fill="#666"/><rect x="251.58" y="444.1" width="1" height="1" fill="#777"/><rect x="259.88" y="444.9" width="3.2" height="1.4" fill="#666"/><rect x="260.98" y="444.1" width="1" height="1" fill="#777"/><rect x="269.28" y="444.9" width="3.2" height="1.4" fill="#666"/><rect x="270.38" y="444.1" width="1" height="1" fill="#777"/><rect x="278.69" y="444.9" width="3.2" height="1.4" fill="#666"/><rect x="279.79" y="444.1" width="1" height="1" fill="#777"/><rect x="288.09" y="444.9" width="3.2" height="1.4" fill="#666"/><rect x="289.19" y="444.1" width="1" height="1" fill="#777"/><rect x="297.49" y="444.9" width="3.2" height="1.4" fill="#666"/><rect x="298.59" y="444.1" width="1" height="1" fill="#777"/><rect x="306.89" y="444.9" width="3.2" height="1.4" fill="#666"/><rect x="308" y="444.1" width="1" height="1" fill="#777"/><rect x="316.3" y="444.9" width="3.2" height="1.4" fill="#666"/><rect x="317.4" y="444.1" width="1" height="1" fill="#777"/><path d="M49.9 451.3 L49.9 347.66 L59.31 347.66 L59.31 309.82 L68.71 309.82 L68.71 292.51 L78.11 292.51 L78.11 282.84 L87.52 282.84 L87.52 278.01 L96.92 278.01 L96.92 273.58 L106.32 273.58 L106.32 269.96 L115.73 269.96 L115.73 269.56 L125.13 269.56 L125.13 269.16 L134.53 269.16 L134.53 268.35 L143.94 268.35 L143.94 268.35 L153.34 268.35 L153.34 271.57 L162.74 271.57 L162.74 272.38 L172.15 272.38 L172.15 273.99 L181.55 273.99 L181.55 276.81 L190.95 276.81 L190.95 279.22 L200.36 279.22 L200.36 282.44 L209.76 282.44 L209.76 283.65 L219.16 283.65 L219.16 286.87 L228.57 286.87 L228.57 291.3 L237.97 291.3 L237.97 294.12 L247.37 294.12 L247.37 295.32 L256.78 295.32 L256.78 300.16 L266.18 300.16 L266.18 308.21 L275.58 308.21 L275.58 306.6 L284.99 306.6 L284.99 317.87 L294.39 317.87 L294.39 318.68 L303.79 318.68 L303.79 308.61 L313.2 308.61 L313.2 314.65 L322.6 314.65 L322.6 451.3" fill="none" stroke="#f4f" stroke-width="1.1" opacity="0.85"/><path d="M49.9 451.3 L49.9 377.46 L59.31 377.46 L59.31 326.73 L68.71 326.73 L68.71 307 L78.11 307 L78.11 288.88 L87.52 288.88 L87.52 288.88 L96.92 288.88 L96.92 278.82 L106.32 278.82 L106.32 272.78 L115.73 272.78 L115.73 263.92 L125.13 263.92 L125.13 280.03 L134.53 280.03 L134.53 265.13 L143.94 265.13 L143.94 267.55 L153.34 267.55 L153.34 271.97 L162.74 271.97 L162.74 275.19 L172.15 275.19 L172.15 275.6 L181.55 275.6 L181.55 272.38 L190.95 272.38 L190.95 283.25 L200.36 283.25 L200.36 304.58 L209.76 304.58 L209.76 258.29 L219.16 258.29 L219.16 292.91 L228.57 292.91 L228.57 301.36 L237.97 301.36 L237.97 309.82 L247.37 309.82 L247.37 249.03 L256.78 249.03 L256.78 342.43 L266.18 342.43 L266.18 281.64 L275.58 281.64 L275.58 327.53 L284.99 327.53 L284.99 333.97 L294.39 333.97 L294.39 321.9 L303.79 321.9 L303.79 293.31 L313.2 293.31 L313.2 341.62 L322.6 341.62 L322.6 451.3" fill="none" stroke="#ff5a28" stroke-width="1.3" stroke-dasharray="3.2 1.4 0.9 1.4"/><path d="M49.9 451.3 L49.9 347.66 L59.31 347.66 L59.31 304.18 L68.71 304.18 L68.71 288.08 L78.11 288.08 L78.11 277.61 L87.52 277.61 L87.52 257.48 L96.92 257.48 L96.92 280.43 L106.32 280.43 L106.32 274.79 L115.73 274.79 L115.73 261.1 L125.13 261.1 L125.13 261.91 L134.53 261.91 L134.53 265.13 L143.94 265.13 L143.94 273.58 L153.34 273.58 L153.34 263.12 L162.74 263.12 L162.74 267.95 L172.15 267.95 L172.15 276.81 L181.55 276.81 L181.55 278.82 L190.95 278.82 L190.95 280.83 L200.36 280.83 L200.36 284.45 L209.76 284.45 L209.76 287.27 L219.16 287.27 L219.16 286.47 L228.57 286.47 L228.57 286.47 L237.97 286.47 L237.97 301.36 L247.37 301.36 L247.37 297.74 L256.78 297.74 L256.78 296.94 L266.18 296.94 L266.18 308.21 L275.58 308.21 L275.58 309.42 L284.99 309.42 L284.99 315.46 L294.39 315.46 L294.39 318.68 L303.79 318.68 L303.79 315.86 L313.2 315.86 L313.2 312.23 L322.6 312.23 L322.6 451.3" fill="none" stroke="#f00" stroke-width="1.7"/></g>
<rect x="40.3" y="244.8" width="282.9" height="201" fill="none" stroke="#333" stroke-width="1.1"/>
<path d="M87.52 445.8v-3M87.52 244.8v3M134.53 445.8v-3M134.53 244.8v3M181.55 445.8v-3M181.55 244.8v3M228.57 445.8v-3M228.57 244.8v3M275.58 445.8v-3M275.58 244.8v3M40.3 406.04h3M323.2 406.04h-3M40.3 365.78h3M323.2 365.78h-3M40.3 325.52h3M323.2 325.52h-3M40.3 285.26h3M323.2 285.26h-3" stroke="#333" stroke-width="1" fill="none"/>
<text x="42.1" y="460.2" text-anchor="middle" style="font-family:'Liberation Serif',serif;font-size:10.1px" fill="#333" stroke="#333" stroke-width="0.2">0</text>
<text x="89.12" y="460.2" text-anchor="middle" style="font-family:'Liberation Serif',serif;font-size:10.1px" fill="#333" stroke="#333" stroke-width="0.2">50</text>
<text x="136.13" y="460.2" text-anchor="middle" style="font-family:'Liberation Serif',serif;font-size:10.1px" fill="#333" stroke="#333" stroke-width="0.2">100</text>
<text x="183.15" y="460.2" text-anchor="middle" style="font-family:'Liberation Serif',serif;font-size:10.1px" fill="#333" stroke="#333" stroke-width="0.2">150</text>
<text x="230.17" y="460.2" text-anchor="middle" style="font-family:'Liberation Serif',serif;font-size:10.1px" fill="#333" stroke="#333" stroke-width="0.2">200</text>
<text x="277.18" y="460.2" text-anchor="middle" style="font-family:'Liberation Serif',serif;font-size:10.1px" fill="#333" stroke="#333" stroke-width="0.2">250</text>
<text x="324.2" y="460.2" text-anchor="middle" style="font-family:'Liberation Serif',serif;font-size:10.1px" fill="#333" stroke="#333" stroke-width="0.2">300</text>
<text x="33.8" y="448.9" text-anchor="end" style="font-family:'Liberation Serif',serif;font-size:10.1px" fill="#333" stroke="#333" stroke-width="0.2">1</text>
<text x="33.8" y="408.64" text-anchor="end" style="font-family:'Liberation Serif',serif;font-size:10.1px" fill="#333" stroke="#333" stroke-width="0.2">1.1</text>
<text x="33.8" y="368.38" text-anchor="end" style="font-family:'Liberation Serif',serif;font-size:10.1px" fill="#333" stroke="#333" stroke-width="0.2">1.2</text>
<text x="33.8" y="328.12" text-anchor="end" style="font-family:'Liberation Serif',serif;font-size:10.1px" fill="#333" stroke="#333" stroke-width="0.2">1.3</text>
<text x="33.8" y="287.86" text-anchor="end" style="font-family:'Liberation Serif',serif;font-size:10.1px" fill="#333" stroke="#333" stroke-width="0.2">1.4</text>
<text x="33.8" y="247.6" text-anchor="end" style="font-family:'Liberation Serif',serif;font-size:10.1px" fill="#333" stroke="#333" stroke-width="0.2">1.5</text>
<text transform="translate(10.8 344.3) rotate(-90)" text-anchor="middle" textLength="8.1" lengthAdjust="spacingAndGlyphs" style="font-family:'Liberation Serif',serif;font-style:italic;font-size:11.6px" fill="#333" stroke="#333" stroke-width="0.1">R</text>
<text x="155.2" y="476" style="font-family:'Liberation Serif',serif;font-style:italic;font-size:11.6px" fill="#333" stroke="#333" stroke-width="0.2">p</text>
<text x="160.6" y="471.8" textLength="9" lengthAdjust="spacingAndGlyphs" style="font-family:'Liberation Serif',serif;font-style:italic;font-size:7.5px" fill="#333" stroke="#333" stroke-width="0.2">W</text>
<text x="170.5" y="470.5" style="font-family:'Liberation Serif',serif;font-size:10px" fill="#333" stroke="#333" stroke-width="0.2">+</text>
<path d="M161.4 479.1h6.2M164.3 479.1v-3.2" stroke="#333" stroke-width="0.95" fill="none"/>
<text x="182.7" y="476.4" style="font-family:'Liberation Serif',serif;font-size:11.8px" fill="#333" stroke="#333" stroke-width="0.2">(</text>
<text x="187" y="476.1" textLength="21.8" lengthAdjust="spacingAndGlyphs" style="font-family:'Liberation Serif',serif;font-size:10.5px" fill="#333" stroke="#333" stroke-width="0.2">GeV</text>
<text x="210" y="476.4" style="font-family:'Liberation Serif',serif;font-size:11.8px" fill="#333" stroke="#333" stroke-width="0.2">)</text>
<text x="68.5" y="368.4" textLength="50" lengthAdjust="spacingAndGlyphs" style="font-family:'Liberation Serif',serif;font-size:10.2px" fill="#333" stroke="#333" stroke-width="0.2">LHC 8 TeV</text>
<text x="68.5" y="388.8" textLength="46" lengthAdjust="spacingAndGlyphs" style="font-family:'Liberation Serif',serif;font-size:10.5px" fill="#333" stroke="#333" stroke-width="0.2">muon bare</text>
<text x="75.9" y="402" textLength="9" lengthAdjust="spacingAndGlyphs" style="font-family:'Liberation Serif',serif;font-style:italic;font-size:6.8px" fill="#333" stroke="#333" stroke-width="0.2">dσ</text>
<rect x="69" y="404" width="22" height="1" fill="#333"/>
<text x="69.1" y="410.1" textLength="8.6" lengthAdjust="spacingAndGlyphs" style="font-family:'Liberation Serif',serif;font-style:italic;font-size:7.2px" fill="#333" stroke="#333" stroke-width="0.2">dp</text>
<text x="77.9" y="408.4" textLength="6.6" lengthAdjust="spacingAndGlyphs" style="font-family:'Liberation Serif',serif;font-style:italic;font-size:5.6px" fill="#333" stroke="#333" stroke-width="0.2">W</text>
<text x="85.8" y="408.5" style="font-family:'Liberation Serif',serif;font-size:6px" fill="#333" stroke="#333" stroke-width="0.2">+</text>
<path d="M77.7 414.1h3.6M79.5 414.1v-2.2" stroke="#333" stroke-width="0.7" fill="none"/>
<text x="69" y="428.5" textLength="6.4" lengthAdjust="spacingAndGlyphs" style="font-family:'Liberation Serif',serif;font-size:10.8px" fill="#333" stroke="#333" stroke-width="0.2">R</text>
<text x="75.9" y="428.5" textLength="7.5" lengthAdjust="spacingAndGlyphs" style="font-family:'Liberation Serif',serif;font-size:10.8px" fill="#333" stroke="#333" stroke-width="0.2">=</text>
<text x="84" y="428.5" textLength="61.4" lengthAdjust="spacingAndGlyphs" style="font-family:'Liberation Mono',monospace;font-size:10.2px" fill="#333" stroke="#333" stroke-width="0.1">code/NLO-QCD</text>
<text x="256.7" y="407.1" textLength="36.5" lengthAdjust="spacingAndGlyphs" style="font-family:'Liberation Mono',monospace;font-size:10.2px" fill="#333" stroke="#333" stroke-width="0.1">NLO-QCD</text>
<text x="274.4" y="418.8" text-anchor="end" textLength="20.68" lengthAdjust="spacingAndGlyphs" style="font-family:'Liberation Mono',monospace;font-size:10.2px" fill="#333" stroke="#333" stroke-width="0.1">FEWZ</text>
<text x="274.4" y="429.3" text-anchor="end" textLength="31.02" lengthAdjust="spacingAndGlyphs" style="font-family:'Liberation Mono',monospace;font-size:10.2px" fill="#333" stroke="#333" stroke-width="0.1">DYNNLO</text>
<text x="274.4" y="440.2" text-anchor="end" textLength="51.7" lengthAdjust="spacingAndGlyphs" style="font-family:'Liberation Mono',monospace;font-size:10.2px" fill="#333" stroke="#333" stroke-width="0.1">SHERPANNLO</text>
<path d="M294.2 404.2H310.6" stroke="#555" stroke-width="1.2" stroke-dasharray="1.4 0.8"/>
<path d="M310.3 402.4v3.6" stroke="#555" stroke-width="1.2"/>
<path d="M280.6 415.6H310.6" stroke="#f4f" stroke-width="1.1" opacity="0.85"/>
<path d="M280.6 426.1H310.6" stroke="#ff5a28" stroke-width="1.3" stroke-dasharray="3.2 1.4 0.9 1.4"/>
<path d="M280.6 437H310.6" stroke="#f00" stroke-width="1.6"/>
<clipPath id="cbr"><rect x="386.8" y="244.8" width="283.6" height="201"/></clipPath>
<g clip-path="url(#cbr)"><rect x="399.34" y="444.9" width="3.2" height="1.4" fill="#666"/><rect x="400.44" y="444.1" width="1" height="1" fill="#777"/><rect x="408.77" y="444.9" width="3.2" height="1.4" fill="#666"/><rect x="409.87" y="444.1" width="1" height="1" fill="#777"/><rect x="418.19" y="444.9" width="3.2" height="1.4" fill="#666"/><rect x="419.29" y="444.1" width="1" height="1" fill="#777"/><rect x="427.62" y="444.9" width="3.2" height="1.4" fill="#666"/><rect x="428.72" y="444.1" width="1" height="1" fill="#777"/><rect x="437.05" y="444.9" width="3.2" height="1.4" fill="#666"/><rect x="438.15" y="444.1" width="1" height="1" fill="#777"/><rect x="446.47" y="444.9" width="3.2" height="1.4" fill="#666"/><rect x="447.57" y="444.1" width="1" height="1" fill="#777"/><rect x="455.9" y="444.9" width="3.2" height="1.4" fill="#666"/><rect x="457" y="444.1" width="1" height="1" fill="#777"/><rect x="465.33" y="444.9" width="3.2" height="1.4" fill="#666"/><rect x="466.43" y="444.1" width="1" height="1" fill="#777"/><rect x="474.75" y="444.9" width="3.2" height="1.4" fill="#666"/><rect x="475.85" y="444.1" width="1" height="1" fill="#777"/><rect x="484.18" y="444.9" width="3.2" height="1.4" fill="#666"/><rect x="485.28" y="444.1" width="1" height="1" fill="#777"/><rect x="493.61" y="444.9" width="3.2" height="1.4" fill="#666"/><rect x="494.71" y="444.1" width="1" height="1" fill="#777"/><rect x="503.03" y="444.9" width="3.2" height="1.4" fill="#666"/><rect x="504.13" y="444.1" width="1" height="1" fill="#777"/><rect x="512.46" y="444.9" width="3.2" height="1.4" fill="#666"/><rect x="513.56" y="444.1" width="1" height="1" fill="#777"/><rect x="521.89" y="444.9" width="3.2" height="1.4" fill="#666"/><rect x="522.99" y="444.1" width="1" height="1" fill="#777"/><rect x="531.31" y="444.9" width="3.2" height="1.4" fill="#666"/><rect x="532.41" y="444.1" width="1" height="1" fill="#777"/><rect x="540.74" y="444.9" width="3.2" height="1.4" fill="#666"/><rect x="541.84" y="444.1" width="1" height="1" fill="#777"/><rect x="550.17" y="444.9" width="3.2" height="1.4" fill="#666"/><rect x="551.27" y="444.1" width="1" height="1" fill="#777"/><rect x="559.59" y="444.9" width="3.2" height="1.4" fill="#666"/><rect x="560.69" y="444.1" width="1" height="1" fill="#777"/><rect x="569.02" y="444.9" width="3.2" height="1.4" fill="#666"/><rect x="570.12" y="444.1" width="1" height="1" fill="#777"/><rect x="578.45" y="444.9" width="3.2" height="1.4" fill="#666"/><rect x="579.55" y="444.1" width="1" height="1" fill="#777"/><rect x="587.87" y="444.9" width="3.2" height="1.4" fill="#666"/><rect x="588.97" y="444.1" width="1" height="1" fill="#777"/><rect x="597.3" y="444.9" width="3.2" height="1.4" fill="#666"/><rect x="598.4" y="444.1" width="1" height="1" fill="#777"/><rect x="606.73" y="444.9" width="3.2" height="1.4" fill="#666"/><rect x="607.83" y="444.1" width="1" height="1" fill="#777"/><rect x="616.15" y="444.9" width="3.2" height="1.4" fill="#666"/><rect x="617.25" y="444.1" width="1" height="1" fill="#777"/><rect x="625.58" y="444.9" width="3.2" height="1.4" fill="#666"/><rect x="626.68" y="444.1" width="1" height="1" fill="#777"/><rect x="635.01" y="444.9" width="3.2" height="1.4" fill="#666"/><rect x="636.11" y="444.1" width="1" height="1" fill="#777"/><rect x="644.43" y="444.9" width="3.2" height="1.4" fill="#666"/><rect x="645.53" y="444.1" width="1" height="1" fill="#777"/><rect x="653.86" y="444.9" width="3.2" height="1.4" fill="#666"/><rect x="654.96" y="444.1" width="1" height="1" fill="#777"/><rect x="663.29" y="444.9" width="3.2" height="1.4" fill="#666"/><rect x="664.39" y="444.1" width="1" height="1" fill="#777"/><path d="M396.23 450.8 L396.23 347.26 L405.65 347.26 L405.65 307.44 L415.08 307.44 L415.08 293.77 L424.51 293.77 L424.51 287.33 L433.93 287.33 L433.93 277.68 L443.36 277.68 L443.36 273.26 L452.79 273.26 L452.79 270.84 L462.21 270.84 L462.21 268.43 L471.64 268.43 L471.64 268.03 L481.07 268.03 L481.07 268.03 L490.49 268.03 L490.49 268.03 L499.92 268.03 L499.92 269.64 L509.35 269.64 L509.35 271.25 L518.77 271.25 L518.77 273.66 L528.2 273.66 L528.2 273.66 L537.63 273.66 L537.63 276.07 L547.05 276.07 L547.05 280.9 L556.48 280.9 L556.48 283.71 L565.91 283.71 L565.91 285.72 L575.33 285.72 L575.33 288.14 L584.76 288.14 L584.76 297.79 L594.19 297.79 L594.19 296.18 L603.61 296.18 L603.61 301.81 L613.04 301.81 L613.04 303.82 L622.47 303.82 L622.47 313.88 L631.89 313.88 L631.89 309.86 L641.32 309.86 L641.32 314.68 L650.75 314.68 L650.75 329.16 L660.17 329.16 L660.17 333.59 L669.6 333.59 L669.6 450.8" fill="none" stroke="#f4f" stroke-width="1.1" opacity="0.85"/><path d="M396.23 450.8 L396.23 378.23 L405.65 378.23 L405.65 324.74 L415.08 324.74 L415.08 304.63 L424.51 304.63 L424.51 281.7 L433.93 281.7 L433.93 272.45 L443.36 272.45 L443.36 298.19 L452.79 298.19 L452.79 288.14 L462.21 288.14 L462.21 256.36 L471.64 256.36 L471.64 275.27 L481.07 275.27 L481.07 264.81 L490.49 264.81 L490.49 273.26 L499.92 273.26 L499.92 266.82 L509.35 266.82 L509.35 267.63 L518.77 267.63 L518.77 297.39 L528.2 297.39 L528.2 259.98 L537.63 259.98 L537.63 268.83 L547.05 268.83 L547.05 287.33 L556.48 287.33 L556.48 293.37 L565.91 293.37 L565.91 290.15 L575.33 290.15 L575.33 288.54 L584.76 288.54 L584.76 294.98 L594.19 294.98 L594.19 294.98 L603.61 294.98 L603.61 277.28 L613.04 277.28 L613.04 322.32 L622.47 322.32 L622.47 286.13 L631.89 286.13 L631.89 279.29 L641.32 279.29 L641.32 403.97 L650.75 403.97 L650.75 360.13 L660.17 360.13 L660.17 261.99 L669.6 261.99 L669.6 450.8" fill="none" stroke="#ff5a28" stroke-width="1.3" stroke-dasharray="3.2 1.4 0.9 1.4"/><path d="M396.23 450.8 L396.23 354.1 L405.65 354.1 L405.65 307.44 L415.08 307.44 L415.08 293.77 L424.51 293.77 L424.51 278.48 L433.93 278.48 L433.93 267.63 L443.36 267.63 L443.36 273.26 L452.79 273.26 L452.79 262.8 L462.21 262.8 L462.21 261.59 L471.64 261.59 L471.64 264.81 L481.07 264.81 L481.07 263.2 L490.49 263.2 L490.49 268.83 L499.92 268.83 L499.92 265.61 L509.35 265.61 L509.35 266.82 L518.77 266.82 L518.77 268.83 L528.2 268.83 L528.2 277.28 L537.63 277.28 L537.63 278.08 L547.05 278.08 L547.05 273.26 L556.48 273.26 L556.48 286.13 L565.91 286.13 L565.91 281.7 L575.33 281.7 L575.33 281.7 L584.76 281.7 L584.76 296.99 L594.19 296.99 L594.19 284.92 L603.61 284.92 L603.61 307.44 L613.04 307.44 L613.04 288.14 L622.47 288.14 L622.47 299.8 L631.89 299.8 L631.89 309.86 L641.32 309.86 L641.32 310.66 L650.75 310.66 L650.75 331.58 L660.17 331.58 L660.17 311.06 L669.6 311.06 L669.6 450.8" fill="none" stroke="#f00" stroke-width="1.7"/></g>
<rect x="386.8" y="244.8" width="283.6" height="201" fill="none" stroke="#333" stroke-width="1.1"/>
<path d="M433.93 445.8v-3M433.93 244.8v3M481.07 445.8v-3M481.07 244.8v3M528.2 445.8v-3M528.2 244.8v3M575.33 445.8v-3M575.33 244.8v3M622.47 445.8v-3M622.47 244.8v3M386.8 405.58h3M670.4 405.58h-3M386.8 365.36h3M670.4 365.36h-3M386.8 325.14h3M670.4 325.14h-3M386.8 284.92h3M670.4 284.92h-3" stroke="#333" stroke-width="1" fill="none"/>
<text x="388.8" y="460.2" text-anchor="middle" style="font-family:'Liberation Serif',serif;font-size:10.1px" fill="#333" stroke="#333" stroke-width="0.2">0</text>
<text x="435.93" y="460.2" text-anchor="middle" style="font-family:'Liberation Serif',serif;font-size:10.1px" fill="#333" stroke="#333" stroke-width="0.2">50</text>
<text x="483.07" y="460.2" text-anchor="middle" style="font-family:'Liberation Serif',serif;font-size:10.1px" fill="#333" stroke="#333" stroke-width="0.2">100</text>
<text x="530.2" y="460.2" text-anchor="middle" style="font-family:'Liberation Serif',serif;font-size:10.1px" fill="#333" stroke="#333" stroke-width="0.2">150</text>
<text x="577.33" y="460.2" text-anchor="middle" style="font-family:'Liberation Serif',serif;font-size:10.1px" fill="#333" stroke="#333" stroke-width="0.2">200</text>
<text x="624.47" y="460.2" text-anchor="middle" style="font-family:'Liberation Serif',serif;font-size:10.1px" fill="#333" stroke="#333" stroke-width="0.2">250</text>
<text x="671.6" y="460.2" text-anchor="middle" style="font-family:'Liberation Serif',serif;font-size:10.1px" fill="#333" stroke="#333" stroke-width="0.2">300</text>
<text x="380" y="448.4" text-anchor="end" style="font-family:'Liberation Serif',serif;font-size:10.1px" fill="#333" stroke="#333" stroke-width="0.2">1</text>
<text x="380" y="408.18" text-anchor="end" style="font-family:'Liberation Serif',serif;font-size:10.1px" fill="#333" stroke="#333" stroke-width="0.2">1.1</text>
<text x="380" y="367.96" text-anchor="end" style="font-family:'Liberation Serif',serif;font-size:10.1px" fill="#333" stroke="#333" stroke-width="0.2">1.2</text>
<text x="380" y="327.74" text-anchor="end" style="font-family:'Liberation Serif',serif;font-size:10.1px" fill="#333" stroke="#333" stroke-width="0.2">1.3</text>
<text x="380" y="287.52" text-anchor="end" style="font-family:'Liberation Serif',serif;font-size:10.1px" fill="#333" stroke="#333" stroke-width="0.2">1.4</text>
<text x="380" y="247.3" text-anchor="end" style="font-family:'Liberation Serif',serif;font-size:10.1px" fill="#333" stroke="#333" stroke-width="0.2">1.5</text>
<text transform="translate(357.4 351) rotate(-90)" text-anchor="middle" textLength="8.1" lengthAdjust="spacingAndGlyphs" style="font-family:'Liberation Serif',serif;font-style:italic;font-size:11.6px" fill="#333" stroke="#333" stroke-width="0.1">R</text>
<text x="501.6" y="476.5" style="font-family:'Liberation Serif',serif;font-style:italic;font-size:11.6px" fill="#333" stroke="#333" stroke-width="0.2">p</text>
<text x="507" y="472.3" textLength="9" lengthAdjust="spacingAndGlyphs" style="font-family:'Liberation Serif',serif;font-style:italic;font-size:7.5px" fill="#333" stroke="#333" stroke-width="0.2">W</text>
<text x="516.9" y="471" style="font-family:'Liberation Serif',serif;font-size:10px" fill="#333" stroke="#333" stroke-width="0.2">−</text>
<path d="M507.8 479.6h6.2M510.7 479.6v-3.2" stroke="#333" stroke-width="0.95" fill="none"/>
<text x="529.1" y="476.9" style="font-family:'Liberation Serif',serif;font-size:11.8px" fill="#333" stroke="#333" stroke-width="0.2">(</text>
<text x="533.4" y="476.6" textLength="21.8" lengthAdjust="spacingAndGlyphs" style="font-family:'Liberation Serif',serif;font-size:10.5px" fill="#333" stroke="#333" stroke-width="0.2">GeV</text>
<text x="556.4" y="476.9" style="font-family:'Liberation Serif',serif;font-size:11.8px" fill="#333" stroke="#333" stroke-width="0.2">)</text>
<text x="416" y="368.6" textLength="50" lengthAdjust="spacingAndGlyphs" style="font-family:'Liberation Serif',serif;font-size:10.2px" fill="#333" stroke="#333" stroke-width="0.2">LHC 8 TeV</text>
<text x="416" y="389" textLength="46" lengthAdjust="spacingAndGlyphs" style="font-family:'Liberation Serif',serif;font-size:10.5px" fill="#333" stroke="#333" stroke-width="0.2">muon bare</text>
<text x="423.4" y="402.2" textLength="9" lengthAdjust="spacingAndGlyphs" style="font-family:'Liberation Serif',serif;font-style:italic;font-size:6.8px" fill="#333" stroke="#333" stroke-width="0.2">dσ</text>
<rect x="416.5" y="404" width="22" height="1" fill="#333"/>
<text x="416.6" y="410.3" textLength="8.6" lengthAdjust="spacingAndGlyphs" style="font-family:'Liberation Serif',serif;font-style:italic;font-size:7.2px" fill="#333" stroke="#333" stroke-width="0.2">dp</text>
<text x="425.4" y="408.6" textLength="6.6" lengthAdjust="spacingAndGlyphs" style="font-family:'Liberation Serif',serif;font-style:italic;font-size:5.6px" fill="#333" stroke="#333" stroke-width="0.2">W</text>
<text x="433.3" y="408.7" style="font-family:'Liberation Serif',serif;font-size:6px" fill="#333" stroke="#333" stroke-width="0.2">−</text>
<path d="M425.2 414.3h3.6M427 414.3v-2.2" stroke="#333" stroke-width="0.7" fill="none"/>
<text x="416.5" y="428.7" textLength="6.4" lengthAdjust="spacingAndGlyphs" style="font-family:'Liberation Serif',serif;font-size:10.8px" fill="#333" stroke="#333" stroke-width="0.2">R</text>
<text x="423.4" y="428.7" textLength="7.5" lengthAdjust="spacingAndGlyphs" style="font-family:'Liberation Serif',serif;font-size:10.8px" fill="#333" stroke="#333" stroke-width="0.2">=</text>
<text x="431.5" y="428.7" textLength="61.4" lengthAdjust="spacingAndGlyphs" style="font-family:'Liberation Mono',monospace;font-size:10.2px" fill="#333" stroke="#333" stroke-width="0.1">code/NLO-QCD</text>
<text x="603.2" y="407.3" textLength="36.5" lengthAdjust="spacingAndGlyphs" style="font-family:'Liberation Mono',monospace;font-size:10.2px" fill="#333" stroke="#333" stroke-width="0.1">NLO-QCD</text>
<text x="621.5" y="418.9" text-anchor="end" textLength="20.68" lengthAdjust="spacingAndGlyphs" style="font-family:'Liberation Mono',monospace;font-size:10.2px" fill="#333" stroke="#333" stroke-width="0.1">FEWZ</text>
<text x="621.5" y="429.7" text-anchor="end" textLength="31.02" lengthAdjust="spacingAndGlyphs" style="font-family:'Liberation Mono',monospace;font-size:10.2px" fill="#333" stroke="#333" stroke-width="0.1">DYNNLO</text>
<text x="621.5" y="440.2" text-anchor="end" textLength="51.7" lengthAdjust="spacingAndGlyphs" style="font-family:'Liberation Mono',monospace;font-size:10.2px" fill="#333" stroke="#333" stroke-width="0.1">SHERPANNLO</text>
<path d="M640.7 404.4H656.9" stroke="#555" stroke-width="1.2" stroke-dasharray="1.4 0.8"/>
<path d="M656.6 402.6v3.6" stroke="#555" stroke-width="1.2"/>
<path d="M627.7 415.7H656.9" stroke="#f4f" stroke-width="1.1" opacity="0.85"/>
<path d="M627.7 426.5H656.9" stroke="#ff5a28" stroke-width="1.3" stroke-dasharray="3.2 1.4 0.9 1.4"/>
<path d="M627.7 437H656.9" stroke="#f00" stroke-width="1.6"/>
</svg>
</body></html>
